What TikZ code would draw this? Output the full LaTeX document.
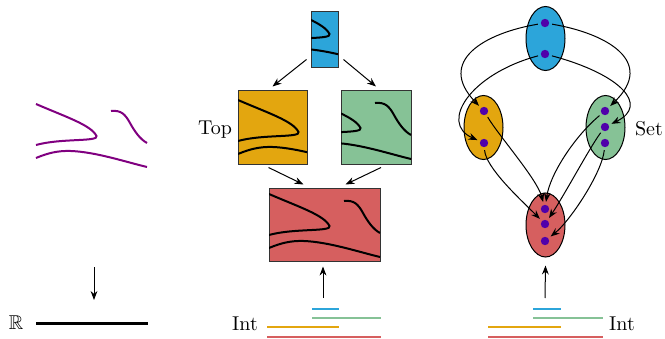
\documentclass[tikz,border=0pt]{standalone}
\usepackage{amssymb}
\usetikzlibrary{arrows.meta,calc,fit,shapes.geometric}
\definecolor{sheafBlue}{RGB}{44,165,218}
\definecolor{sheafOrange}{RGB}{227,166,15}
\definecolor{sheafGreen}{RGB}{134,194,150}
\definecolor{sheafRed}{RGB}{214,95,95}
\definecolor{leftStrand}{RGB}{128,0,128}
\definecolor{elemColor}{RGB}{80,0,170}

% the three strands, in the frame of the glued box
\newcommand\strands[1]{%
  \draw[strand,#1] (0,6) .. controls (30,19) and (55,27) .. (60.5,38) .. controls (63,44) and (25,40) .. (0,47);
  \draw[strand,#1] (0,60) .. controls (12,55) and (22,52.5) .. (35,53) .. controls (60,54) and (90,64) .. (111,69);
  \draw[strand,#1] (75,13) .. controls (85,12) and (89,16) .. (94,25) .. controls (99,34) and (104,41) .. (111,45);
}

\begin{document}
\begin{tikzpicture}[x=0.5pt, y=-0.5pt,
  >={Stealth[length=4.5pt,width=3.4pt]},
  arr/.style={->, line width=0.5pt},
  strand/.style={line width=1pt, black},
  box/.style={draw=black!80, line width=0.5pt, inner sep=0pt},
  patch/.style={ellipse, draw, line width=0.5pt, inner sep=0pt, minimum width=19.5pt, minimum height=32pt},
  elem/.style={circle, fill=elemColor, inner sep=0pt, minimum size=4.2pt, outer sep=1.5pt},
  interval/.style={line width=1.1pt}]
  \useasboundingbox (0,0) rectangle (665,338);

  % left: the space over the line
  \begin{scope}[shift={(36,98)}]
    \strands{leftStrand}
  \end{scope}
  \coordinate (fibreTop) at (94,267);
  \coordinate (fibreBot) at (94,300);
  \draw[arr] (fibreTop) -- (fibreBot);
  \node (reals) at (16,323) {$\mathbb{R}$};
  \draw[line width=1.5pt] (36,323) -- (148,323);

  % middle: Top
  \node[box, fill=sheafBlue, fit={(311,11) (338,67)}] (blueT) {};
  \node[box, fill=sheafOrange, fit={(238,90) (307,164)}] (topL) {};
  \node[box, fill=sheafGreen, fit={(341,90) (411,164)}] (topR) {};
  \node[box, fill=sheafRed, fit={(269,188) (380,261)}] (glued) {};
  \begin{scope}
    \clip (311,11) rectangle (338,67);
    \begin{scope}[shift={(269,-4)}] \strands{} \end{scope}
  \end{scope}
  \begin{scope}
    \clip (238,90) rectangle (307,164);
    \begin{scope}[shift={(238,94)}] \strands{} \end{scope}
  \end{scope}
  \begin{scope}
    \clip (341,90) rectangle (411,164);
    \begin{scope}[shift={(300,90)}] \strands{} \end{scope}
  \end{scope}
  \begin{scope}
    \clip (269,188) rectangle (380,261);
    \begin{scope}[shift={(269,188)}] \strands{} \end{scope}
  \end{scope}
  \node (lblTop) at (215,130) {Top};

  \draw[arr] ($(blueT.south west)+(-4,-8)$) -- ($(topL.north)+(0,-3)$);
  \draw[arr] ($(blueT.south east)+(5,-8)$) -- ($(topR.north)+(0,-3)$);
  \draw[arr] ($(topL.south)+(-4,3)$) -- ($(glued.north)+(-21,-3)$);
  \draw[arr] ($(topR.south)+(5,3)$) -- ($(glued.north)+(21,-3)$);

  \coordinate (intTopM) at (323,298);
  \draw[arr] (intTopM) -- ($(glued.south)+(-1.5,5)$);
  \draw[interval, sheafBlue] (312,309) -- (339,309);
  \draw[interval, sheafGreen] (312,318) -- (381,318);
  \draw[interval, sheafOrange] (267,327) -- (339,327);
  \draw[interval, sheafRed] (267,337) -- (381,337);
  \node (intM) at (245,324) {Int};

  % right: Set
  \node[patch, fill=sheafBlue] (setT) at (545.5,38.5) {};
  \node[patch, fill=sheafOrange] (setL) at (483.5,127.5) {};
  \node[patch, fill=sheafGreen] (setR) at (605.5,127.5) {};
  \node[patch, fill=sheafRed] (setB) at (545.5,225) {};
  \node (lblSet) at (649,129) {Set};

  \node[elem] (t1) at (545,23) {};
  \node[elem] (t2) at (545,54) {};
  \node[elem] (l1) at (484,111) {};
  \node[elem] (l2) at (484,143) {};
  \node[elem] (r1) at (605,111) {};
  \node[elem] (r2) at (605,127) {};
  \node[elem] (r3) at (605,143) {};
  \node[elem] (b1) at (545,209) {};
  \node[elem] (b2) at (545,224) {};
  \node[elem] (b3) at (545,241) {};

  \draw[arr] (t1) .. controls +(-60,10) and +(-48,-50) .. (l1);
  \draw[arr] (t2) .. controls +(-75,20) and +(-45,-20) .. (l2);
  \draw[arr] (t1) .. controls +(60,10) and +(52,-50) .. (r1);
  \draw[arr] (t2) .. controls +(75,20) and +(45,-22) .. (r2);
  \draw[arr] (l1) .. controls +(15,25) and +(-8,-30) .. (b1);
  \draw[arr] (l2) .. controls +(2,25) and +(-25,-25) .. (b2);
  \draw[arr] (r1) .. controls +(-30,25) and +(5,-35) .. (b1);
  \draw[arr] (r2) .. controls +(-15,20) and +(20,-30) .. (b2);
  \draw[arr] (r3) .. controls +(-3,30) and +(25,-20) .. (b3);

  \coordinate (intTopR) at (545,298);
  \draw[arr] (intTopR) -- ($(setB.south)+(0,8)$);
  \draw[interval, sheafBlue] (533,309) -- (561,309);
  \draw[interval, sheafGreen] (533,318) -- (603,318);
  \draw[interval, sheafOrange] (488,327) -- (561,327);
  \draw[interval, sheafRed] (488,337) -- (603,337);
  \node (intRt) at (622,324) {Int};
\end{tikzpicture}
\end{document}
